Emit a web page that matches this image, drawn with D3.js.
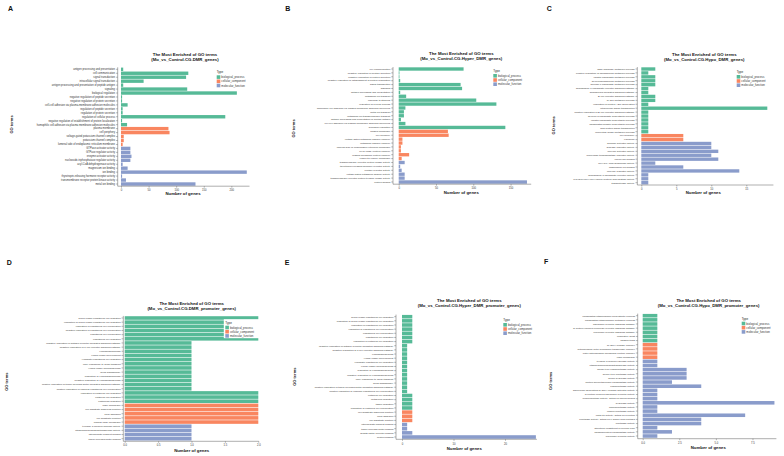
<!DOCTYPE html>
<html><head><meta charset="utf-8">
<script src="https://cdn.jsdelivr.net/npm/d3@7/dist/d3.min.js"></script>
<style>body{margin:0;background:#fff}svg{display:block;font-family:"Liberation Sans",Arial,sans-serif}</style>
</head><body>
<svg id="c" width="784" height="456"></svg>
<script>
// ---------- DATA ----------
const typeNames = ["biological_process", "cellular_component", "molecular_function"];
const mainTitle = "The Most Enriched of GO terms";

const A_subtitle = "(Mo_vs_Control.CG.DMR_genes)";
const A_terms = ["antigen processing and presentation","cell communication","signal transduction","intracellular signal transduction","antigen processing and presentation of peptide antigen","signaling","biological regulation","negative regulation of peptide secretion","negative regulation of protein secretion","cell-cell adhesion via plasma-membrane adhesion molecules","regulation of peptide secretion","regulation of protein secretion","regulation of cellular process","negative regulation of establishment of protein localization","homophilic cell adhesion via plasma membrane adhesion molecules","plasma membrane","cell periphery","voltage-gated potassium channel complex","potassium channel complex","lumenal side of endoplasmic reticulum membrane","GTPase activator activity","GTPase regulator activity","enzyme activator activity","nucleoside-triphosphatase regulator activity","acyl-CoA dehydrogenase activity","magnesium ion binding","ion binding","thyrotropin-releasing hormone receptor activity","transmembrane receptor protein kinase activity","metal ion binding"];
const A_values = [4,122,118,41,4,120,210,2,2,12,3,3,189,2,11,86,88,5,5,3,17,17,19,17,3,12,228,2,9,135];
const A_typeCounts = [15,5,10];
const A_ticks = [0,50,100,150,200];

const B_subtitle = "(Mo_vs_Control.CG.Hyper_DMR_genes)";
const B_terms = ["cell communication","negative regulation of peptide secretion","negative regulation of protein secretion","negative regulation of establishment of protein localization","signal transduction","signaling","antigen processing and presentation","potassium ion transport","response to stimulus","regulation of cellular process","homophilic cell adhesion via plasma membrane adhesion molecules","metal ion transport","potassium ion transmembrane transport","antigen processing and presentation of peptide antigen","cell-cell adhesion via plasma-membrane adhesion molecules","biological regulation","plasma membrane","cell periphery","voltage-gated potassium channel complex","potassium channel complex","lumenal side of endoplasmic reticulum membrane","MHC class I protein complex","plasma membrane protein complex","endocytic vesicle membrane","transmembrane receptor protein kinase activity","thyrotropin-releasing hormone receptor activity","peptide receptor activity","voltage-gated potassium channel activity","transmembrane receptor protein tyrosine kinase activity","protein binding"];
const B_values = [87,1,1,2,83,85,2,10,104,131,9,7,7,3,9,143,66,67,5,5,3,3,14,4,8,2,4,8,8,172];
const B_typeCounts = [16,8,6];
const B_ticks = [0,50,100,150];

const C_subtitle = "(Mo_vs_Control.CG.Hypo_DMR_genes)";
const C_terms = ["GDP-mannose metabolic process","positive regulation of phospholipid metabolic process","inositol phosphate metabolic process","glycerophospholipid metabolic process","glucose 6-phosphate metabolic process","sphingosine-1-phosphate receptor signaling pathway","sphingolipid mediated signaling pathway","B cell receptor signaling pathway","NADP metabolic process","regulation of protein ADP-ribosylation","intracellular signal transduction","positive regulation of B cell receptor signaling pathway","glycerol-3-phosphate biosynthetic process","inositol phosphate biosynthetic process","phosphatidylinositol biosynthetic process","Ras protein signal transduction","nucleotide-sugar metabolic process","cell periphery","lysosome","GTPase activator activity","GTPase regulator activity","enzyme activator activity","nucleoside-triphosphatase regulator activity","coenzyme binding","acyl-CoA dehydrogenase activity","magnesium ion binding","enzyme regulator activity","sphingosine-1-phosphate receptor activity","3-hydroxyacyl-[acyl-carrier-protein] dehydratase activity","transketolase activity"];
const C_values = [2,1,2,2,2,1,1,2,2,1,18,1,1,1,1,1,1,6,6,10,10,11,10,11,2,6,14,1,1,1];
const C_typeCounts = [17,2,11];
const C_ticks = [0,5,10,15];

const D_subtitle = "(Mo_vs_Control.CG.DMR_promoter_genes)";
const D_terms = ["blood vessel endothelial cell migration","regulation of blood vessel endothelial cell migration","regulation of endothelial cell proliferation","negative regulation of endothelial cell proliferation","endothelial cell proliferation","endothelial cell migration","negative regulation of antigen receptor-mediated signaling pathway","negative regulation of T cell receptor signaling pathway","lymphangiogenesis","lymph vessel development","lymphatic endothelial cell migration","early endosome to Golgi transport","lymph vessel morphogenesis","Golgi disassembly","regulation of lymphangiogenesis","negative regulation of lymphangiogenesis","positive regulation of tumor necrosis factor-mediated signaling pathway","positive regulation of vascular endothelial cell proliferation","regulation of epithelial cell migration","epithelial cell migration","epithelium migration","ruffle membrane","cell-substrate adherens junction","focal adhesion","cell-substrate junction","leading edge membrane","tyrosine 3-monooxygenase activity","ethanolaminephosphotransferase activity","intermediate filament binding","tumor necrosis factor binding"];
const D_values = [2,2,2,2,2,2,1,1,1,1,1,1,1,1,1,1,1,1,2,2,2,2,2,2,2,2,1,1,1,1];
const D_typeCounts = [21,5,4];
const D_ticks = [0,0.5,1,1.5,2];

const E_subtitle = "(Mo_vs_Control.CG.Hyper_DMR_promoter_genes)";
const E_terms = ["blood vessel endothelial cell migration","regulation of blood vessel endothelial cell migration","regulation of endothelial cell migration","regulation of endothelial cell proliferation","endothelial cell proliferation","endothelial cell migration","regulation of epithelial cell migration","negative regulation of antigen receptor-mediated signaling pathway","negative regulation of T cell receptor signaling pathway","lymphangiogenesis","lymph vessel development","lymphatic endothelial cell migration","lymph vessel morphogenesis","regulation of lymphangiogenesis","negative regulation of lymphangiogenesis","early endosome to Golgi transport","Golgi disassembly","positive regulation of tumor necrosis factor-mediated signaling pathway","positive regulation of vascular endothelial cell proliferation","epithelial cell migration","epithelium migration","tissue migration","regulation of epithelial cell proliferation","cell-substrate adherens junction","focal adhesion","cell-substrate junction","intermediate filament binding","tumor necrosis factor binding","growth factor receptor binding","protein binding"];
const E_values = [2,2,2,2,2,2,2,1,1,1,1,1,1,1,1,1,1,1,1,2,2,2,2,2,2,2,1,1,2,26];
const E_typeCounts = [23,3,4];
const E_ticks = [0,10,20];

const F_subtitle = "(Mo_vs_Control.CG.Hypo_DMR_promoter_genes)";
const F_terms = ["phosphatidylethanolamine biosynthetic process","phosphatidylethanolamine metabolic process","adenosine receptor signaling pathway","G protein-coupled purinergic receptor signaling pathway","purinergic receptor signaling pathway","respiratory burst","phagocytosis","NADPH oxidase complex","mitochondrial outer membrane translocase complex","outer mitochondrial membrane protein complex","ruffle membrane","tyrosine 3-monooxygenase activity","ethanolaminephosphotransferase activity","serine-type endopeptidase activity","serine-type peptidase activity","serine hydrolase activity","protein serine/threonine phosphatase activity","endopeptidase activity","superoxide-generating NADPH oxidase activator activity","G protein-coupled adenosine receptor activity","oxidoreductase activity, acting on paired donors","hydrolase activity","aminopeptidase activity","carboxypeptidase activity","catalytic activity, acting on a protein","peptidase activity, acting on L-amino acid peptides","peptidase activity","structural constituent of nuclear pore","phosphoprotein phosphatase activity","purinergic receptor activity"];
const F_values = [1,1,1,1,1,1,1,1,1,1,1,1,1,3,3,3,2,4,1,1,1,9,1,1,7,4,4,1,2,1];
const F_typeCounts = [7,4,19];
const F_ticks = [0,2.5,5,7.5];

// ---------- LAYOUT / STYLE ----------
const colors = ["#56BA97", "#F98660", "#8A9CCB"];
const fmtInt = d3.format("d"), fmt1 = d3.format(".1f");
const panels = [
  {id:"A", sub:A_subtitle, terms:A_terms, values:A_values, counts:A_typeCounts, ticks:A_ticks, fmt:fmtInt,
   L:{letter:[8,11], tx:185, ty:[55.5,61], rows:[69.3,184], zeroX:121, endX:249, dmax:232, axisX:117.7, axisY:186.2, tly:190.7, xt:[183,195.3], yt:[11.7,124.5], leg:[216.7,73.3], legBg:false, fs:2.6}},
  {id:"B", sub:B_subtitle, terms:B_terms, values:B_values, counts:B_typeCounts, ticks:B_ticks, fmt:fmtInt,
   L:{letter:[285.3,10.7], tx:461.3, ty:[55,60], rows:[69,182], zeroX:398.7, endX:530.7, dmax:177, axisX:393, axisY:184.2, tly:188.7, xt:[461.3,194], yt:[293.3,128.5], leg:[493.3,72], legBg:false, fs:2.45}},
  {id:"C", sub:C_subtitle, terms:C_terms, values:C_values, counts:C_typeCounts, ticks:C_ticks, fmt:fmtInt,
   L:{letter:[546.7,11], tx:704.3, ty:[55.7,60.7], rows:[69,182.7], zeroX:641.3, endX:772.9, dmax:18.8, axisX:637.3, axisY:185, tly:189.7, xt:[703.3,194.3], yt:[553.3,125.3], leg:[736.7,73], legBg:false, fs:2.5}},
  {id:"D", sub:D_subtitle, terms:D_terms, values:D_values, counts:D_typeCounts, ticks:D_ticks, fmt:fmt1,
   L:{letter:[6.7,264.7], tx:191.7, ty:[305,310], rows:[318,438.7], zeroX:124.7, endX:258.3, dmax:2, axisX:123.3, axisY:441.3, tly:446.3, xt:[191.7,451.5], yt:[6.7,381.7], leg:[225.3,323.7], legBg:true, fs:2.5}},
  {id:"E", sub:E_subtitle, terms:E_terms, values:E_values, counts:E_typeCounts, ticks:E_ticks, fmt:fmtInt,
   L:{letter:[284.7,264.7], tx:469.3, ty:[302,307], rows:[316.7,437], zeroX:402, endX:536.4, dmax:26.1, axisX:396, axisY:439.3, tly:444.7, xt:[464.3,450], yt:[294.7,376.7], leg:[503.3,321], legBg:false, fs:2.5}},
  {id:"F", sub:F_subtitle, terms:F_terms, values:F_values, counts:F_typeCounts, ticks:F_ticks, fmt:fmt1,
   L:{letter:[544,264], tx:708.7, ty:[301.5,306.5], rows:[315.7,436], zeroX:642.7, endX:775.9, dmax:9.1, axisX:637.7, axisY:438.7, tly:443.7, xt:[708.3,449], yt:[550,380.8], leg:[741.7,319.7], legBg:false, fs:2.5}}
];

const svg = d3.select("#c");
svg.append("rect").attr("width",784).attr("height",456).attr("fill","#fff");

function draw(p){
  const L = p.L, g = svg.append("g");
  const n = p.terms.length;
  const types = [];
  p.counts.forEach((c,t) => { for (let k=0;k<c;k++) types.push(t); });

  g.append("text").attr("x",L.letter[0]).attr("y",L.letter[1]).text(p.id)
    .attr("font-size",7).attr("font-weight","bold").attr("fill","#111");

  [mainTitle, p.sub].forEach((t,i) => g.append("text").attr("x",L.tx).attr("y",L.ty[i])
    .attr("text-anchor","middle").attr("font-size",4.3).attr("font-weight","bold").attr("fill","#111").text(t));

  const step = (L.rows[1]-L.rows[0])/(n-1);
  const y = d3.scaleBand().domain(d3.range(n)).range([L.rows[0]-step/2, L.rows[1]+step/2]).paddingInner(0.14).paddingOuter(0.07);
  const x = d3.scaleLinear().domain([0, L.dmax]).range([L.zeroX, L.endX]);

  g.append("g").selectAll("rect").data(p.values).join("rect")
    .attr("x", x(0)).attr("y", (d,i) => y(i))
    .attr("width", d => x(d)-x(0)).attr("height", y.bandwidth())
    .attr("fill", (d,i) => colors[types[i]]);

  // y axis
  const ya = g.append("g").attr("transform",`translate(${L.axisX},0)`)
    .call(d3.axisLeft(y).tickFormat(i => p.terms[i]).tickSize(1.8).tickPadding(0.9).tickSizeOuter(0));
  ya.select(".domain").remove();
  ya.selectAll("line").attr("stroke","#333").attr("stroke-width",0.35);
  ya.selectAll("text").attr("font-size",L.fs).attr("fill","#333").attr("font-family","Liberation Sans, Arial, sans-serif");

  // x axis
  const xa = g.append("g").attr("transform",`translate(0,${L.axisY})`)
    .call(d3.axisBottom(x).tickValues(p.ticks).tickFormat(p.fmt).tickSize(1.5));
  xa.select(".domain").remove();
  xa.selectAll("line").attr("stroke","#333").attr("stroke-width",0.35);
  xa.selectAll("text").attr("y", L.tly-L.axisY).attr("dy",0).attr("font-size",2.7).attr("fill","#333")
    .attr("font-family","Liberation Sans, Arial, sans-serif");

  // axis lines
  const top = L.rows[0]-step/2;
  g.append("line").attr("x1",L.axisX).attr("x2",L.axisX).attr("y1",top).attr("y2",L.axisY).attr("stroke","#333").attr("stroke-width",0.4);
  g.append("line").attr("x1",L.axisX).attr("x2",L.endX+0.5).attr("y1",L.axisY).attr("y2",L.axisY).attr("stroke","#333").attr("stroke-width",0.4);

  // axis titles
  g.append("text").attr("x",L.xt[0]).attr("y",L.xt[1]).attr("text-anchor","middle")
    .attr("font-size",4.3).attr("font-weight","bold").attr("fill","#111").text("Number of genes");
  g.append("text").attr("transform",`translate(${L.yt[0]+1.5},${L.yt[1]}) rotate(-90)`).attr("text-anchor","middle")
    .attr("font-size",4).attr("font-weight","bold").attr("fill","#111").text("GO terms");

  // legend
  const lg = g.append("g");
  if (L.legBg) lg.append("rect").attr("x",L.leg[0]-1.5).attr("y",L.leg[1]-4.5).attr("width",36).attr("height",19).attr("fill","#fff");
  lg.append("text").attr("x",L.leg[0]).attr("y",L.leg[1]).attr("font-size",3).attr("fill","#222").text("Type");
  typeNames.forEach((t,i) => {
    const ky = L.leg[1]+2 + i*4.2;
    lg.append("rect").attr("x",L.leg[0]).attr("y",ky).attr("width",3.6).attr("height",3.6).attr("fill",colors[i]);
    lg.append("text").attr("x",L.leg[0]+4.6).attr("y",ky+2.8).attr("font-size",2.8).attr("fill","#333").text(t);
  });
}
panels.forEach(draw);
</script>
</body></html>
